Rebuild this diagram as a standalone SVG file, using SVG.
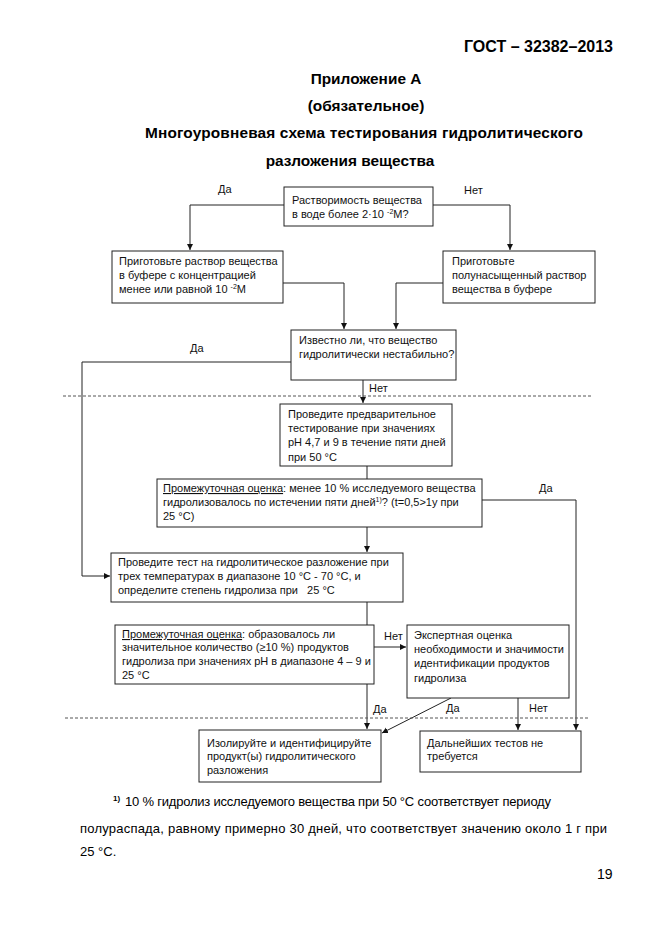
<svg xmlns="http://www.w3.org/2000/svg" width="661" height="935" viewBox="0 0 661 935">
<defs>
<marker id="ah" markerWidth="8" markerHeight="8" refX="6" refY="3" orient="auto" markerUnits="userSpaceOnUse">
<path d="M0,0 L6,3 L0,6 Z" fill="#111"/>
</marker>
<style>
.box{fill:#fff;stroke:#222;stroke-width:1}
.t{font-family:"Liberation Sans",Arial,sans-serif;font-size:11px;fill:#111}
.lbl{font-family:"Liberation Sans",Arial,sans-serif;font-size:11px;fill:#111}
.h{font-family:"Liberation Sans",Arial,sans-serif;font-weight:bold;font-size:15.4px;fill:#000}
.fn{font-family:"Liberation Sans",Arial,sans-serif;font-size:13px;fill:#000}
.c{fill:none;stroke:#222;stroke-width:1}
.ca{fill:none;stroke:#222;stroke-width:1;marker-end:url(#ah)}
.d{fill:none;stroke:#555;stroke-width:1;stroke-dasharray:3,2}
.u{text-decoration:underline}
</style>
</defs>
<rect width="661" height="935" fill="#fff"/>
<g id="header">
<text class="h" x="613" y="52" text-anchor="end" style="font-size:16px">ГОСТ – 32382–2013</text>
<text class="h" x="366" y="84" text-anchor="middle">Приложение А</text>
<text class="h" x="366" y="111" text-anchor="middle">(обязательное)</text>
<text class="h" x="364" y="138" text-anchor="middle" textLength="438">Многоуровневая схема тестирования гидролитического</text>
<text class="h" x="350" y="166" text-anchor="middle">разложения вещества</text>
</g>
<g id="connectors">
<polyline class="ca" points="284,205 190,205 190,250"/>
<polyline class="ca" points="433,205 510,205 510,250"/>
<polyline class="ca" points="283,283 344,283 344,329"/>
<polyline class="ca" points="443,283 396,283 396,329"/>
<polyline class="ca" points="291,362 82,362 82,576 110,576"/>
<polyline class="ca" points="363,380 363,403"/>
<polyline class="c" points="367,466 367,479"/>
<polyline class="ca" points="367,527 367,552"/>
<polyline class="ca" points="482,500 576,500 576,730"/>
<polyline class="ca" points="367,602 367,729"/>
<polyline class="ca" points="374,647 406,647"/>
<polyline class="ca" points="451,698 382,733"/>
<polyline class="ca" points="518,698 518,730"/>
<line class="d" x1="63" y1="396" x2="592" y2="396"/>
<line class="d" x1="65" y1="718" x2="590" y2="718"/>
<text class="lbl" x="218" y="193">Да</text>
<text class="lbl" x="464" y="194">Нет</text>
<text class="lbl" x="190" y="352">Да</text>
<text class="lbl" x="369" y="392">Нет</text>
<text class="lbl" x="539" y="492">Да</text>
<text class="lbl" x="384" y="640">Нет</text>
<text class="lbl" x="373" y="713">Да</text>
<text class="lbl" x="446" y="712">Да</text>
<text class="lbl" x="529" y="712">Нет</text>
</g>
<g id="n1">
<rect class="box" x="284" y="187" width="149" height="39"/>
<text class="t" x="292" y="204">Растворимость вещества</text>
<text class="t" x="292" y="218">в воде более 2·10 <tspan style="font-size:7px" dy="-4">-2</tspan><tspan dy="4">М?</tspan></text>
</g>
<g id="n2">
<rect class="box" x="112" y="251" width="171" height="52"/>
<text class="t" x="119" y="265">Приготовьте раствор вещества</text>
<text class="t" x="119" y="279">в буфере с концентрацией</text>
<text class="t" x="119" y="293">менее или равной 10 <tspan style="font-size:7px" dy="-4">-2</tspan><tspan dy="4">М</tspan></text>
</g>
<g id="n3">
<rect class="box" x="443" y="251" width="152" height="52"/>
<text class="t" x="452" y="265">Приготовьте</text>
<text class="t" x="452" y="279">полунасыщенный раствор</text>
<text class="t" x="452" y="293">вещества в буфере</text>
</g>
<g id="n4">
<rect class="box" x="291" y="330" width="165" height="50"/>
<text class="t" x="299" y="344">Известно ли, что вещество</text>
<text class="t" x="299" y="358">гидролитически нестабильно?</text>
</g>
<g id="n5">
<rect class="box" x="280" y="404" width="172" height="62"/>
<text class="t" x="288" y="418">Проведите предварительное</text>
<text class="t" x="288" y="432">тестирование при значениях</text>
<text class="t" x="288" y="446">pH 4,7 и 9 в течение пяти дней</text>
<text class="t" x="288" y="461">при 50 °С</text>
</g>
<g id="n6">
<rect class="box" x="157" y="479" width="325" height="48"/>
<text class="t" x="163" y="492"><tspan class="u">Промежуточная оценка</tspan>: менее 10 % исследуемого вещества</text>
<text class="t" x="163" y="506">гидролизовалось по истечении пяти дней<tspan style="font-size:7px" dy="-4">1)</tspan><tspan dy="4">? (t=0,5&gt;1y при</tspan></text>
<text class="t" x="163" y="520">25 °С)</text>
</g>
<g id="n7">
<rect class="box" x="111" y="553" width="292" height="49"/>
<text class="t" x="118" y="566">Проведите тест на гидролитическое разложение при</text>
<text class="t" x="118" y="580">трех температурах в диапазоне 10 °С - 70 °С, и</text>
<text class="t" x="118" y="594">определите степень гидролиза при &#160;&#160;25 °С</text>
</g>
<g id="n8">
<rect class="box" x="115" y="625" width="259" height="59"/>
<text class="t" x="122" y="638"><tspan class="u">Промежуточная оценка</tspan>: образовалось ли</text>
<text class="t" x="122" y="651">значительное количество (≥10 %) продуктов</text>
<text class="t" x="122" y="665">гидролиза при значениях pH в диапазоне 4 – 9 и</text>
<text class="t" x="122" y="679">25 °С</text>
</g>
<g id="n9">
<rect class="box" x="407" y="625" width="162" height="73"/>
<text class="t" x="414" y="639">Экспертная оценка</text>
<text class="t" x="414" y="653">необходимости и значимости</text>
<text class="t" x="414" y="667">идентификации продуктов</text>
<text class="t" x="414" y="682">гидролиза</text>
</g>
<g id="n10">
<rect class="box" x="199" y="730" width="182" height="52"/>
<text class="t" x="207" y="747">Изолируйте и идентифицируйте</text>
<text class="t" x="207" y="760">продукт(ы) гидролитического</text>
<text class="t" x="207" y="774">разложения</text>
</g>
<g id="n11">
<rect class="box" x="420" y="731" width="161" height="41"/>
<text class="t" x="427" y="747">Дальнейших тестов не</text>
<text class="t" x="427" y="760">требуется</text>
</g>
<g id="footnote">
<text class="fn" x="113" y="801" style="font-size:8px;font-weight:bold">1)</text>
<text class="fn" x="125" y="806" textLength="426">10 % гидролиз исследуемого вещества при 50 °С соответствует периоду</text>
<text class="fn" x="80" y="833" textLength="527">полураспада, равному примерно 30 дней, что соответствует значению около 1 г при</text>
<text class="fn" x="80" y="856">25 °С.</text>
<text class="fn" x="597" y="879" style="font-size:14px">19</text>
</g>
</svg>
